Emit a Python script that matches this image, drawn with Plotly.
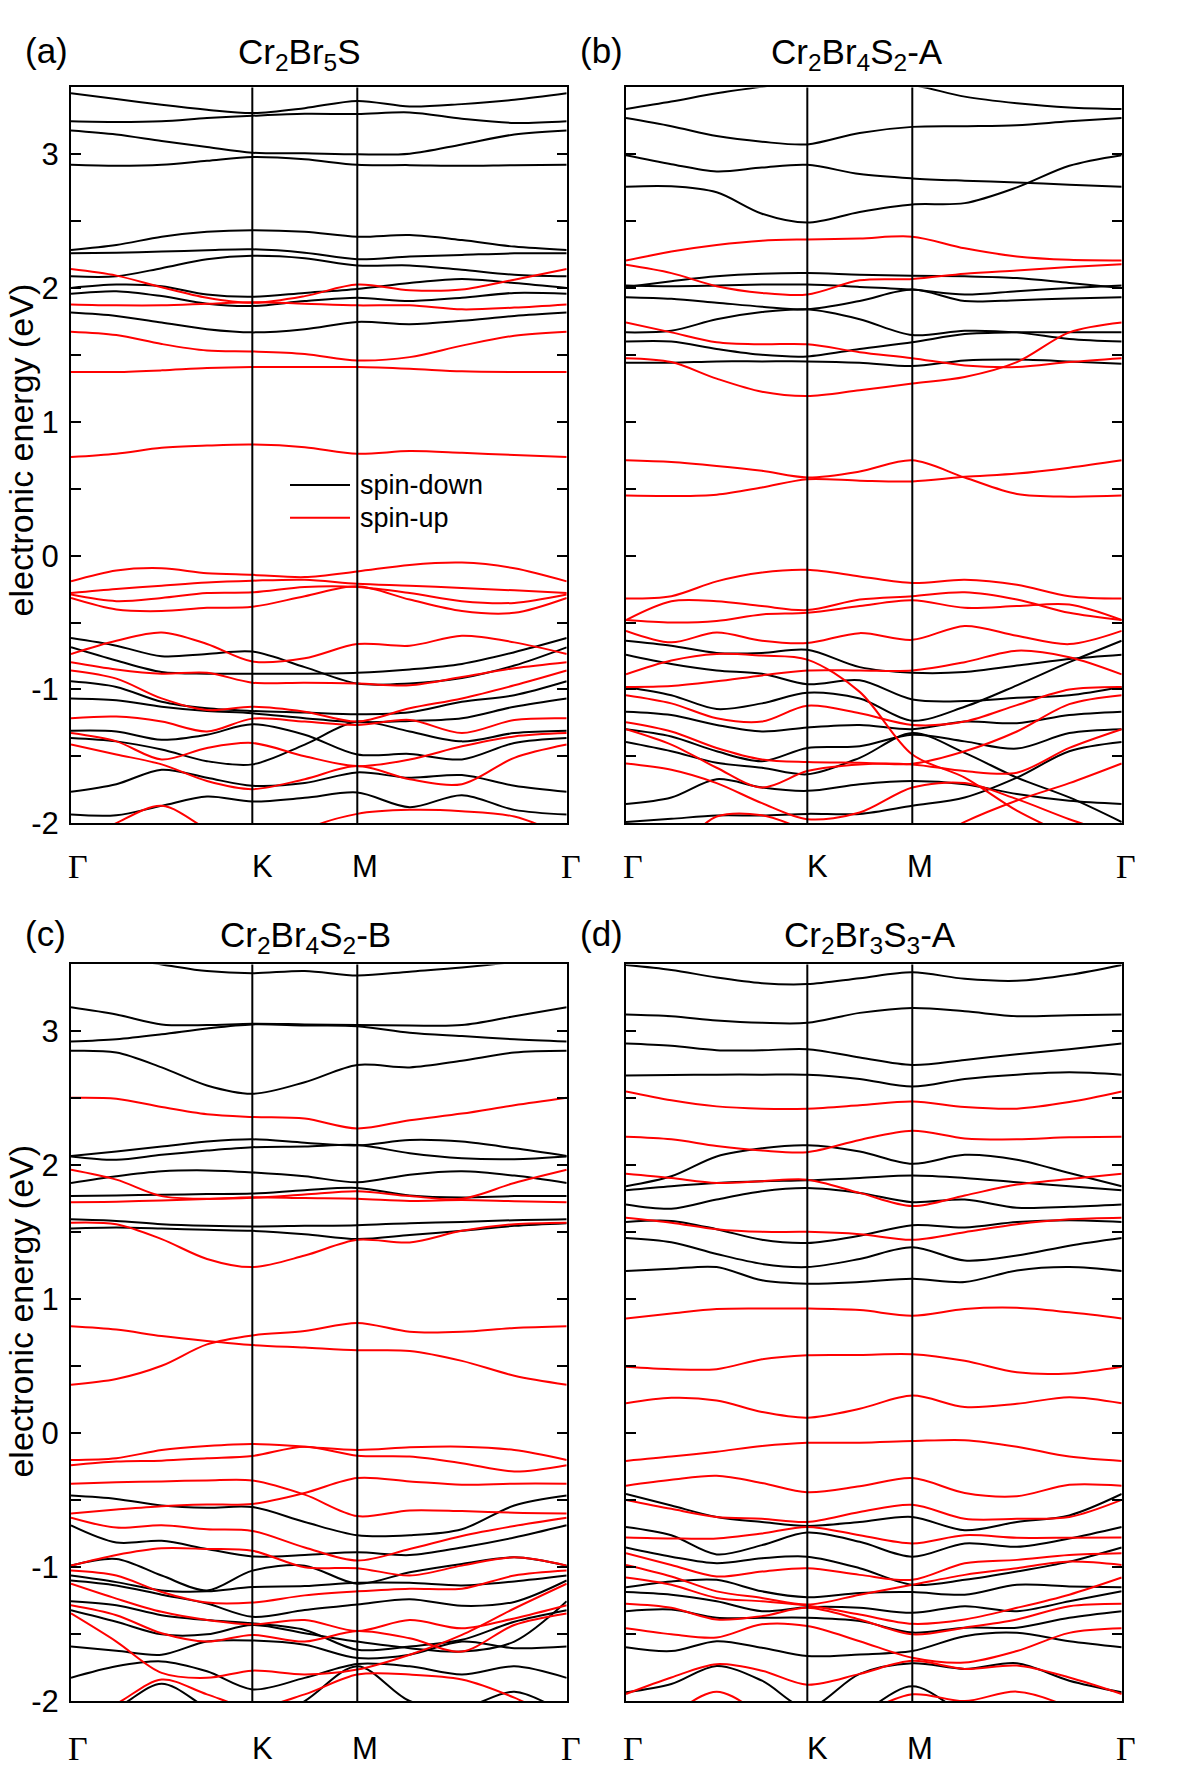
import plotly.graph_objects as go

# k-path sample points (Gamma-K-M-Gamma) and high-symmetry labels
KPTS = [0, 0.25, 0.5, 0.75, 1.0, 1.289, 1.579, 1.868, 2.156, 2.445, 2.734]
KTICKS = [0, 1.0, 1.579, 2.734]
KLABELS = ["Γ", "K", "M", "Γ"]

YTICKS = [-2, -1, 0, 1, 2, 3]
YTICKTEXT = ["-2", "-1", "0", "1", "2", "3"]
YMINOR = [-1.5, -0.5, 0.5, 1.5, 2.5]

TITLES = ["Cr<sub>2</sub>Br<sub>5</sub>S", "Cr<sub>2</sub>Br<sub>4</sub>S<sub>2</sub>-A",
          "Cr<sub>2</sub>Br<sub>4</sub>S<sub>2</sub>-B", "Cr<sub>2</sub>Br<sub>3</sub>S<sub>3</sub>-A"]
PANEL_TAGS = ["(a)", "(b)", "(c)", "(d)"]

# ---------------- (a) Cr2Br5S ----------------
A_DOWN = [
    [3.456, 3.414, 3.370, 3.333, 3.308, 3.345, 3.399, 3.357, 3.375, 3.407, 3.456],
    [3.247, 3.242, 3.247, 3.271, 3.288, 3.303, 3.301, 3.313, 3.266, 3.234, 3.247],
    [3.178, 3.148, 3.099, 3.054, 3.012, 3.007, 3.000, 3.005, 3.074, 3.148, 3.178],
    [2.921, 2.914, 2.921, 2.951, 2.980, 2.963, 2.921, 2.919, 2.914, 2.919, 2.921],
    [2.285, 2.322, 2.384, 2.421, 2.433, 2.421, 2.384, 2.396, 2.359, 2.310, 2.285],
    [2.260, 2.265, 2.273, 2.283, 2.290, 2.265, 2.216, 2.236, 2.248, 2.260, 2.260],
    [2.088, 2.088, 2.149, 2.216, 2.241, 2.223, 2.169, 2.169, 2.137, 2.100, 2.088],
    [2.001, 2.026, 2.014, 1.952, 1.935, 1.964, 1.994, 2.038, 2.068, 2.038, 2.001],
    [1.957, 1.977, 1.940, 1.883, 1.866, 1.903, 1.928, 1.903, 1.928, 1.964, 1.957],
    [1.817, 1.792, 1.743, 1.693, 1.669, 1.693, 1.747, 1.730, 1.755, 1.792, 1.817],
    [-0.616, -0.673, -0.752, -0.735, -0.717, -0.833, -0.956, -0.956, -0.915, -0.821, -0.685],
    [-0.685, -0.784, -0.870, -0.882, -0.882, -0.882, -0.875, -0.850, -0.809, -0.722, -0.616],
    [-0.939, -0.981, -1.092, -1.141, -1.161, -1.173, -1.186, -1.171, -1.092, -1.043, -0.939],
    [-1.067, -1.080, -1.129, -1.161, -1.178, -1.215, -1.245, -1.235, -1.215, -1.129, -1.067],
    [-1.309, -1.314, -1.376, -1.338, -1.260, -1.338, -1.486, -1.482, -1.523, -1.400, -1.363],
    [-1.363, -1.388, -1.449, -1.536, -1.560, -1.412, -1.240, -1.314, -1.388, -1.326, -1.309],
    [-1.765, -1.708, -1.600, -1.660, -1.720, -1.700, -1.620, -1.660, -1.640, -1.720, -1.765],
    [-1.935, -1.940, -1.870, -1.800, -1.837, -1.810, -1.770, -1.880, -1.790, -1.900, -1.935],
]
A_UP = [
    [2.142, 2.093, 2.006, 1.927, 1.890, 1.940, 2.026, 1.984, 1.989, 2.063, 2.142],
    [1.878, 1.871, 1.871, 1.883, 1.895, 1.883, 1.871, 1.871, 1.841, 1.854, 1.878],
    [1.674, 1.649, 1.582, 1.533, 1.526, 1.508, 1.459, 1.484, 1.570, 1.644, 1.674],
    [1.373, 1.373, 1.385, 1.402, 1.410, 1.410, 1.410, 1.397, 1.378, 1.373, 1.373],
    [0.737, 0.762, 0.806, 0.823, 0.831, 0.811, 0.762, 0.782, 0.769, 0.752, 0.737],
    [-0.192, -0.111, -0.094, -0.131, -0.143, -0.160, -0.118, -0.069, -0.052, -0.094, -0.192],
    [-0.279, -0.249, -0.224, -0.200, -0.187, -0.180, -0.210, -0.224, -0.242, -0.259, -0.279],
    [-0.291, -0.340, -0.316, -0.279, -0.274, -0.234, -0.234, -0.279, -0.340, -0.353, -0.291],
    [-0.316, -0.402, -0.414, -0.390, -0.382, -0.303, -0.229, -0.328, -0.414, -0.427, -0.316],
    [-0.735, -0.636, -0.574, -0.660, -0.791, -0.767, -0.661, -0.673, -0.599, -0.648, -0.735],
    [-0.796, -0.850, -0.882, -0.875, -0.949, -0.949, -0.956, -0.969, -0.907, -0.841, -0.796],
    [-0.858, -0.919, -1.067, -1.154, -1.129, -1.166, -1.240, -1.141, -1.067, -0.969, -0.858],
    [-1.215, -1.203, -1.240, -1.314, -1.218, -1.240, -1.265, -1.228, -1.326, -1.228, -1.215],
    [-1.326, -1.388, -1.523, -1.437, -1.400, -1.499, -1.573, -1.523, -1.425, -1.351, -1.326],
    [-1.412, -1.486, -1.560, -1.684, -1.745, -1.671, -1.573, -1.671, -1.708, -1.511, -1.412],
    [-2.200, -2.000, -1.870, -2.050, -2.300, -2.050, -1.930, -1.900, -1.910, -1.950, -2.100],
]

# ---------------- (b) Cr2Br4S2-A ----------------
B_DOWN = [
    [3.338, 3.394, 3.456, 3.505, 3.550, 3.550, 3.518, 3.431, 3.382, 3.350, 3.338],
    [3.271, 3.210, 3.136, 3.094, 3.074, 3.160, 3.205, 3.210, 3.217, 3.247, 3.271],
    [2.993, 2.926, 2.872, 2.901, 2.921, 2.852, 2.820, 2.803, 2.790, 2.773, 2.758],
    [2.758, 2.761, 2.716, 2.556, 2.490, 2.569, 2.625, 2.635, 2.753, 2.914, 2.993],
    [2.009, 2.051, 2.088, 2.107, 2.112, 2.100, 2.093, 2.088, 2.075, 2.038, 2.001],
    [2.019, 2.014, 2.019, 2.026, 2.026, 2.009, 1.989, 1.952, 1.977, 2.001, 2.019],
    [1.932, 1.920, 1.891, 1.861, 1.841, 1.903, 1.989, 1.903, 1.910, 1.923, 1.932],
    [1.669, 1.681, 1.767, 1.821, 1.841, 1.767, 1.649, 1.681, 1.669, 1.619, 1.600],
    [1.600, 1.600, 1.545, 1.501, 1.489, 1.545, 1.595, 1.656, 1.669, 1.669, 1.669],
    [1.442, 1.442, 1.452, 1.452, 1.452, 1.442, 1.417, 1.459, 1.466, 1.452, 1.434],
    [-0.636, -0.673, -0.727, -0.727, -0.703, -0.833, -0.875, -0.870, -0.821, -0.772, -0.740],
    [-0.740, -0.809, -0.858, -0.882, -0.961, -0.932, -1.075, -1.087, -1.062, -1.043, -0.981],
    [-0.981, -1.043, -1.146, -1.104, -1.025, -1.067, -1.233, -1.129, -0.969, -0.796, -0.636],
    [-1.166, -1.191, -1.265, -1.314, -1.284, -1.265, -1.297, -1.240, -1.252, -1.191, -1.166],
    [-1.297, -1.351, -1.462, -1.536, -1.437, -1.425, -1.338, -1.388, -1.442, -1.326, -1.297],
    [-1.393, -1.462, -1.548, -1.585, -1.634, -1.511, -1.326, -1.474, -1.659, -1.807, -1.991],
    [-1.856, -1.807, -1.671, -1.733, -1.758, -1.708, -1.684, -1.708, -1.782, -1.832, -1.856],
    [-1.991, -1.967, -1.942, -1.942, -1.930, -1.930, -1.869, -1.807, -1.659, -1.462, -1.393],
]
B_UP = [
    [2.206, 2.273, 2.322, 2.354, 2.364, 2.371, 2.384, 2.297, 2.236, 2.211, 2.206],
    [2.174, 2.112, 2.014, 1.964, 1.952, 2.058, 2.068, 2.108, 2.132, 2.157, 2.179],
    [1.743, 1.669, 1.595, 1.580, 1.580, 1.521, 1.476, 1.422, 1.410, 1.447, 1.476],
    [1.476, 1.447, 1.323, 1.225, 1.193, 1.237, 1.286, 1.336, 1.447, 1.669, 1.743],
    [0.713, 0.700, 0.671, 0.634, 0.584, 0.629, 0.713, 0.584, 0.461, 0.441, 0.449],
    [0.449, 0.446, 0.456, 0.510, 0.572, 0.560, 0.555, 0.589, 0.614, 0.658, 0.713],
    [-0.321, -0.303, -0.192, -0.126, -0.106, -0.155, -0.205, -0.180, -0.217, -0.303, -0.321],
    [-0.481, -0.340, -0.340, -0.377, -0.407, -0.328, -0.303, -0.274, -0.328, -0.427, -0.481],
    [-0.481, -0.500, -0.488, -0.439, -0.427, -0.377, -0.333, -0.390, -0.377, -0.365, -0.481],
    [-0.562, -0.648, -0.574, -0.636, -0.653, -0.579, -0.629, -0.525, -0.599, -0.661, -0.562],
    [-0.887, -0.784, -0.735, -0.747, -0.777, -1.018, -1.486, -1.659, -1.906, -2.100, -2.300],
    [-0.981, -0.974, -0.939, -0.895, -0.858, -0.858, -0.858, -0.796, -0.710, -0.759, -0.887],
    [-1.043, -1.104, -1.215, -1.240, -1.122, -1.178, -1.265, -1.240, -1.117, -1.000, -0.981],
    [-1.245, -1.314, -1.437, -1.523, -1.543, -1.548, -1.555, -1.462, -1.314, -1.110, -1.043],
    [-1.297, -1.412, -1.585, -1.733, -1.610, -1.560, -1.560, -1.610, -1.622, -1.437, -1.297],
    [-1.553, -1.600, -1.700, -1.850, -1.970, -1.920, -1.733, -1.700, -1.820, -1.970, -2.100],
    [-2.200, -2.200, -1.950, -1.940, -2.050, -2.150, -2.200, -1.990, -1.830, -1.700, -1.553],
]

# ---------------- (c) Cr2Br4S2-B ----------------
C_DOWN = [
    [3.580, 3.550, 3.500, 3.450, 3.434, 3.451, 3.417, 3.446, 3.476, 3.520, 3.580],
    [3.180, 3.126, 3.052, 3.047, 3.057, 3.052, 3.047, 3.044, 3.047, 3.113, 3.180],
    [2.924, 2.941, 2.978, 3.022, 3.052, 3.044, 3.039, 2.990, 2.965, 2.941, 2.924],
    [2.855, 2.842, 2.731, 2.596, 2.534, 2.620, 2.749, 2.731, 2.781, 2.842, 2.855],
    [2.070, 2.103, 2.140, 2.177, 2.194, 2.169, 2.149, 2.189, 2.177, 2.127, 2.070],
    [2.066, 2.041, 2.078, 2.110, 2.135, 2.140, 2.152, 2.090, 2.053, 2.046, 2.066],
    [1.868, 1.918, 1.955, 1.962, 1.947, 1.918, 1.873, 1.930, 1.955, 1.923, 1.868],
    [1.770, 1.775, 1.780, 1.785, 1.789, 1.814, 1.831, 1.775, 1.760, 1.770, 1.770],
    [1.597, 1.585, 1.560, 1.548, 1.543, 1.548, 1.553, 1.568, 1.577, 1.590, 1.597],
    [1.528, 1.535, 1.528, 1.518, 1.511, 1.486, 1.449, 1.479, 1.511, 1.548, 1.568],
    [-0.466, -0.491, -0.540, -0.557, -0.552, -0.663, -0.762, -0.762, -0.717, -0.540, -0.466],
    [-0.688, -0.816, -0.804, -0.865, -0.920, -0.910, -0.890, -0.910, -0.853, -0.779, -0.688],
    [-0.989, -0.939, -1.063, -1.174, -1.026, -0.989, -1.124, -1.038, -0.976, -0.927, -0.989],
    [-1.063, -1.112, -1.174, -1.181, -1.149, -1.142, -1.117, -1.117, -1.137, -1.107, -1.063],
    [-1.100, -1.137, -1.206, -1.272, -1.371, -1.321, -1.280, -1.240, -1.289, -1.260, -1.100],
    [-1.255, -1.285, -1.359, -1.395, -1.420, -1.469, -1.617, -1.593, -1.543, -1.408, -1.322],
    [-1.322, -1.408, -1.502, -1.502, -1.432, -1.494, -1.556, -1.605, -1.630, -1.556, -1.255],
    [-1.593, -1.625, -1.654, -1.556, -1.548, -1.580, -1.679, -1.654, -1.556, -1.605, -1.593],
    [-1.827, -1.741, -1.704, -1.778, -1.913, -1.827, -1.723, -1.741, -1.802, -1.741, -1.827],
    [-2.150, -2.050, -1.870, -2.050, -2.200, -2.000, -1.740, -2.000, -2.050, -1.930, -2.100],
]
C_UP = [
    [2.504, 2.497, 2.435, 2.381, 2.361, 2.349, 2.275, 2.337, 2.386, 2.448, 2.504],
    [1.967, 1.893, 1.770, 1.750, 1.757, 1.782, 1.807, 1.770, 1.750, 1.868, 1.967],
    [1.725, 1.728, 1.738, 1.748, 1.762, 1.755, 1.750, 1.733, 1.740, 1.732, 1.725],
    [1.572, 1.560, 1.449, 1.301, 1.240, 1.326, 1.444, 1.424, 1.511, 1.560, 1.572],
    [0.799, 0.774, 0.725, 0.688, 0.658, 0.639, 0.619, 0.614, 0.540, 0.429, 0.362],
    [0.362, 0.404, 0.503, 0.663, 0.730, 0.762, 0.823, 0.757, 0.757, 0.786, 0.799],
    [-0.200, -0.187, -0.126, -0.096, -0.081, -0.101, -0.126, -0.106, -0.101, -0.126, -0.200],
    [-0.239, -0.212, -0.205, -0.187, -0.170, -0.101, -0.168, -0.175, -0.224, -0.286, -0.239],
    [-0.377, -0.367, -0.360, -0.353, -0.353, -0.459, -0.619, -0.577, -0.582, -0.594, -0.599],
    [-0.599, -0.570, -0.545, -0.533, -0.528, -0.446, -0.335, -0.360, -0.385, -0.377, -0.377],
    [-0.631, -0.705, -0.688, -0.717, -0.730, -0.853, -0.951, -0.865, -0.767, -0.693, -0.631],
    [-0.989, -0.910, -0.860, -0.865, -0.878, -1.001, -1.008, -1.063, -0.989, -0.927, -0.989],
    [-1.026, -1.063, -1.186, -1.265, -1.265, -1.211, -1.181, -1.161, -1.161, -1.063, -1.026],
    [-1.124, -1.235, -1.334, -1.395, -1.427, -1.395, -1.477, -1.395, -1.457, -1.383, -1.285],
    [-1.285, -1.359, -1.494, -1.556, -1.506, -1.556, -1.477, -1.531, -1.630, -1.432, -1.346],
    [-1.346, -1.556, -1.790, -1.827, -1.773, -1.802, -1.765, -1.654, -1.506, -1.309, -1.124],
    [-2.170, -2.020, -1.839, -1.950, -2.050, -1.950, -1.802, -1.802, -1.839, -1.975, -2.170],
]

# ---------------- (d) Cr2Br3S3-A ----------------
D_DOWN = [
    [3.496, 3.459, 3.402, 3.360, 3.353, 3.397, 3.441, 3.392, 3.377, 3.422, 3.496],
    [3.126, 3.113, 3.081, 3.064, 3.064, 3.138, 3.175, 3.150, 3.113, 3.121, 3.126],
    [2.909, 2.892, 2.859, 2.859, 2.867, 2.805, 2.749, 2.786, 2.830, 2.867, 2.909],
    [2.670, 2.675, 2.677, 2.677, 2.677, 2.645, 2.588, 2.645, 2.677, 2.694, 2.677],
    [1.844, 1.918, 2.066, 2.127, 2.149, 2.103, 2.011, 2.078, 2.041, 1.942, 1.844],
    [1.814, 1.844, 1.868, 1.881, 1.888, 1.905, 1.923, 1.905, 1.873, 1.844, 1.814],
    [1.708, 1.676, 1.745, 1.807, 1.831, 1.794, 1.725, 1.745, 1.683, 1.691, 1.708],
    [1.577, 1.585, 1.523, 1.444, 1.420, 1.474, 1.553, 1.536, 1.577, 1.590, 1.577],
    [1.457, 1.425, 1.338, 1.264, 1.240, 1.301, 1.388, 1.289, 1.326, 1.400, 1.457],
    [1.210, 1.227, 1.240, 1.141, 1.116, 1.129, 1.153, 1.129, 1.215, 1.240, 1.210],
    [-0.454, -0.540, -0.626, -0.663, -0.693, -0.663, -0.626, -0.725, -0.663, -0.614, -0.454],
    [-0.700, -0.762, -0.905, -0.836, -0.742, -0.811, -0.922, -0.823, -0.848, -0.786, -0.700],
    [-0.853, -0.922, -0.971, -0.934, -0.922, -1.008, -1.132, -1.095, -1.033, -0.959, -0.853],
    [-1.151, -1.107, -1.095, -1.181, -1.225, -1.193, -1.186, -1.206, -1.132, -1.144, -1.151],
    [-1.186, -1.206, -1.255, -1.329, -1.299, -1.304, -1.341, -1.292, -1.329, -1.255, -1.181],
    [-1.329, -1.317, -1.378, -1.378, -1.378, -1.403, -1.489, -1.452, -1.452, -1.378, -1.329],
    [-1.598, -1.627, -1.553, -1.602, -1.664, -1.652, -1.627, -1.516, -1.491, -1.553, -1.598],
    [-1.935, -1.873, -1.738, -1.848, -2.050, -1.797, -1.718, -1.760, -1.718, -1.848, -1.935],
    [-2.300, -2.300, -2.300, -2.300, -2.300, -2.100, -1.890, -2.100, -2.300, -2.300, -2.300],
]
D_UP = [
    [2.551, 2.485, 2.440, 2.423, 2.423, 2.448, 2.477, 2.435, 2.423, 2.472, 2.551],
    [2.213, 2.194, 2.144, 2.110, 2.098, 2.189, 2.258, 2.201, 2.194, 2.209, 2.213],
    [1.937, 1.905, 1.868, 1.881, 1.893, 1.794, 1.696, 1.775, 1.856, 1.898, 1.937],
    [1.609, 1.572, 1.523, 1.503, 1.503, 1.486, 1.444, 1.501, 1.560, 1.597, 1.609],
    [0.857, 0.894, 0.927, 0.931, 0.931, 0.919, 0.877, 0.927, 0.936, 0.902, 0.857],
    [0.496, 0.478, 0.478, 0.552, 0.582, 0.584, 0.589, 0.540, 0.454, 0.446, 0.496],
    [0.224, 0.264, 0.244, 0.158, 0.116, 0.182, 0.281, 0.195, 0.219, 0.269, 0.224],
    [-0.207, -0.175, -0.138, -0.096, -0.072, -0.072, -0.059, -0.052, -0.101, -0.175, -0.207],
    [-0.392, -0.348, -0.318, -0.372, -0.441, -0.397, -0.335, -0.446, -0.471, -0.385, -0.392],
    [-0.498, -0.565, -0.626, -0.639, -0.663, -0.589, -0.535, -0.639, -0.639, -0.626, -0.498],
    [-0.779, -0.786, -0.786, -0.749, -0.700, -0.762, -0.823, -0.762, -0.781, -0.781, -0.779],
    [-0.897, -0.984, -1.070, -1.033, -1.008, -1.058, -1.095, -0.971, -0.946, -0.910, -0.897],
    [-0.984, -1.070, -1.181, -1.230, -1.280, -1.206, -1.132, -1.058, -1.008, -0.959, -0.984],
    [-1.078, -1.132, -1.230, -1.255, -1.287, -1.354, -1.423, -1.391, -1.304, -1.206, -1.078],
    [-1.274, -1.304, -1.391, -1.366, -1.304, -1.391, -1.502, -1.452, -1.391, -1.292, -1.274],
    [-1.457, -1.502, -1.526, -1.427, -1.440, -1.553, -1.677, -1.713, -1.627, -1.491, -1.457],
    [-1.947, -1.824, -1.725, -1.774, -1.878, -1.797, -1.700, -1.760, -1.735, -1.824, -1.947],
    [-2.300, -2.100, -1.930, -2.100, -2.300, -2.100, -1.950, -2.000, -1.930, -2.050, -2.300],
]

PANELS = [(A_DOWN, A_UP), (B_DOWN, B_UP), (C_DOWN, C_UP), (D_DOWN, D_UP)]

W, H = 1181, 1772
XDOM = [[71 / W, 566.7 / W], [626 / W, 1121.7 / W]]
YDOM = [[1 - 831.7 / H, 1 - 88.3 / H], [1 - 1718.5 / H, 1 - 974.3 / H]]
SANS = "Liberation Sans, Arial, sans-serif"
SERIF = "Liberation Serif, Times New Roman, serif"

fig = go.Figure()
layout = dict(width=W, height=H, margin=dict(l=0, r=0, t=0, b=0),
              paper_bgcolor="white", plot_bgcolor="white", showlegend=False)
shapes, annotations = [], []

for i, (down, up) in enumerate(PANELS):
    row, col = divmod(i, 2)
    sfx = "" if i == 0 else str(i + 1)
    xa, ya = "x" + sfx, "y" + sfx
    for bands, color in ((down, "#000000"), (up, "#ff0000")):
        for b in bands:
            fig.add_trace(go.Scatter(x=KPTS, y=b, mode="lines", xaxis=xa, yaxis=ya,
                                     line=dict(color=color, width=2, shape="spline", smoothing=0.9),
                                     hoverinfo="skip"))
    layout["xaxis" + sfx] = dict(domain=XDOM[col], anchor=ya, range=[0, KPTS[-1]],
                                 showline=True, linecolor="black", linewidth=2, mirror=True,
                                 showgrid=False, zeroline=False, ticks="", showticklabels=False)
    layout["yaxis" + sfx] = dict(domain=YDOM[row], anchor=xa, range=[-2, 3.5],
                                 showline=True, linecolor="black", linewidth=2, mirror="ticks",
                                 showgrid=False, zeroline=False, ticks="inside", ticklen=10,
                                 tickwidth=2, tickcolor="black", tickvals=YTICKS, ticktext=YTICKTEXT,
                                 minor=dict(tickvals=YMINOR, ticks="inside", ticklen=10,
                                            tickwidth=2, tickcolor="black", showgrid=False),
                                 showticklabels=(col == 0), ticklabelstandoff=4,
                                 tickfont=dict(family=SANS, size=31, color="black"))
    for kx in KTICKS[1:3]:
        shapes.append(dict(type="line", xref=xa, yref=ya + " domain", x0=kx, x1=kx, y0=0, y1=1,
                           line=dict(color="black", width=2), layer="above"))
    # k-point labels
    ylab = YDOM[row][0] - (44 if row == 0 else 48) / H
    for kx, lab, sh in zip(KTICKS, KLABELS, [7, 10, 8, 4]):
        annotations.append(dict(xref=xa, yref="paper", x=kx, y=ylab, text=lab, showarrow=False,
                                xanchor="center", yanchor="middle", xshift=sh,
                                font=dict(family=SERIF if lab == "Γ" else SANS,
                                          size=34 if lab == "Γ" else 31, color="black")))

# panel tags and titles
TAG_X = [23, 578, 23, 578]
TITLE_X = [299, 857, 305, 870]
ROW_Y = [51, 943]
for i in range(4):
    yy = 1 - ROW_Y[i // 2] / H
    annotations.append(dict(xref="paper", yref="paper", x=TAG_X[i] / W, y=yy, text=PANEL_TAGS[i],
                            showarrow=False, xanchor="left", yanchor="middle",
                            font=dict(family=SANS, size=35, color="black")))
    annotations.append(dict(xref="paper", yref="paper", x=TITLE_X[i] / W, y=yy - 4 / H, text=TITLES[i],
                            showarrow=False, xanchor="center", yanchor="middle",
                            font=dict(family=SANS, size=35, color="black")))

# y-axis titles
YLAB_Y = [455, 1325]
for r in range(2):
    annotations.append(dict(xref="paper", yref="paper", x=0, y=1 - YLAB_Y[r] / H,
                            text="electronic energy (eV)", textangle=-90, showarrow=False,
                            xanchor="left", yanchor="middle",
                            font=dict(family=SANS, size=34, color="black")))

# legend (panel a)
LEG = [("spin-down", "#000000", 490), ("spin-up", "#ff0000", 523)]
for name, color, yp in LEG:
    shapes.append(dict(type="line", xref="paper", yref="paper", x0=290 / W, x1=350 / W,
                       y0=1 - yp / H, y1=1 - yp / H, line=dict(color=color, width=2)))
    annotations.append(dict(xref="paper", yref="paper", x=358 / W, y=1 - yp / H, text=name,
                            showarrow=False, xanchor="left", yanchor="middle",
                            font=dict(family=SANS, size=27, color="black")))

layout["shapes"] = shapes
layout["annotations"] = annotations
fig.update_layout(**layout)
fig.write_html("out.html")
